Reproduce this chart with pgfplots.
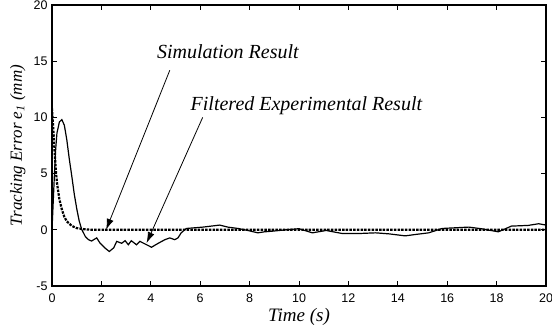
\documentclass[border=0pt]{standalone}
\usepackage{fontspec}
\setmainfont{Liberation Sans}
\newfontfamily\timesf{Liberation Serif}
\usepackage{pgfplots}
\pgfplotsset{compat=1.18}
\usetikzlibrary{arrows.meta}
\begin{document}
\begin{tikzpicture}
\begin{axis}[
  scale only axis, width=494pt, height=281pt,
  xmin=0, xmax=20, ymin=-5, ymax=20,
  xtick={0,2,...,20}, ytick={-5,0,5,10,15,20},
  tick align=inside, tick pos=both, major tick length=5pt,
  axis line style={line width=1.6pt},
  tick style={line width=0.8pt, black},
  /pgf/number format/assume math mode=true,
  ticklabel style={font=\fontsize{12.5}{14}\selectfont},
  xticklabel style={yshift=-4pt},
  yticklabel style={xshift=-1pt},
  xlabel={\timesf\itshape Time (s)},
  ylabel={\timesf\itshape Tracking Error e\textsubscript{1} (mm)},
  xlabel style={font=\fontsize{19}{22}\selectfont, yshift=1pt},
  ylabel style={font=\fontsize{17}{20}\selectfont, at={(axis description cs:-0.0466,0.5)}, anchor=south},
  clip=true,
]
\coordinate (sw) at (rel axis cs:0,0);
\coordinate (ne) at (rel axis cs:1,1);
\addplot[black, line width=2.2pt, dash pattern=on 2.5pt off 1.2pt] coordinates {
(0,10.8) (0.05,9.0) (0.1,7.2) (0.15,5.4) (0.2,4.2) (0.3,2.7) (0.4,1.8) (0.5,1.15) (0.6,0.75) (0.8,0.35) (1.0,0.15) (1.3,0.05) (1.6,0) (20,0)
};
\addplot[black, line width=1.2pt] coordinates {
(0,0) (0.05,2.5) (0.1,5.0) (0.15,7.2) (0.2,8.6) (0.3,9.6) (0.4,9.8) (0.5,9.3) (0.6,8.0) (0.7,6.3) (0.8,4.8) (0.9,3.2) (1.0,1.9) (1.1,0.8) (1.2,0.05) (1.35,-0.6) (1.48,-0.88) (1.6,-1.0) (1.81,-0.72) (1.94,-1.17) (2.15,-1.63) (2.32,-1.93) (2.5,-1.6) (2.62,-1.03) (2.82,-1.2) (2.96,-0.97) (3.09,-1.33) (3.21,-0.97) (3.42,-1.33) (3.56,-1.03) (3.83,-1.33) (4.03,-1.55) (4.3,-1.2) (4.57,-0.88) (4.77,-0.72) (4.97,-0.88) (5.1,-0.72) (5.23,-0.27) (5.44,0.12) (5.78,0.18) (6.11,0.24) (6.45,0.33) (6.79,0.42) (7.12,0.24) (7.53,0.12) (7.93,-0.06) (8.33,-0.27) (8.6,-0.18) (8.93,-0.12) (9.47,0) (10.0,0.1) (10.54,-0.27) (11.1,-0.06) (11.75,-0.33) (12.43,-0.33) (13.1,-0.27) (13.64,-0.36) (14.3,-0.54) (14.7,-0.42) (15.25,-0.27) (15.8,0.12) (16.33,0.18) (16.87,0.24) (17.4,0.09) (18.07,-0.18) (18.6,0.33) (19.28,0.39) (19.7,0.54) (20,0.42)
};
\node[font=\timesf\itshape\fontsize{20}{24}\selectfont, anchor=base] at (axis cs:7.12,15.28) {Simulation Result};
\node[font=\timesf\itshape\fontsize{20}{24}\selectfont, anchor=base] at (axis cs:10.3,10.6) {Filtered Experimental Result};
\draw[-{Latex[length=11pt,width=7pt]}, line width=0.8pt] (axis cs:4.77,14.2) -- (axis cs:2.19,0);
\draw[-{Latex[length=11pt,width=7pt]}, line width=0.8pt] (axis cs:6.1,10.0) -- (axis cs:3.83,-1.18);
\end{axis}
\pgfresetboundingbox
\path[use as bounding box] ([shift={(-52pt,-46pt)}]sw) rectangle ([shift={(6pt,5pt)}]ne);
\end{tikzpicture}
\end{document}
